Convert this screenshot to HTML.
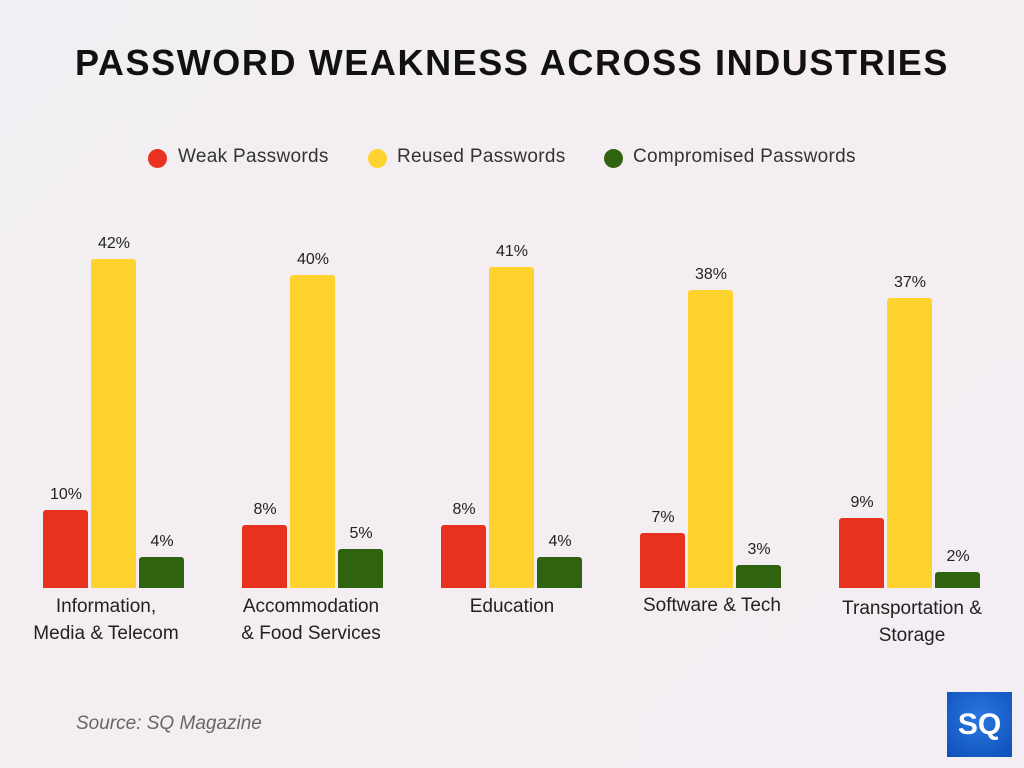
<!DOCTYPE html><html><head><style>
body{margin:0;width:1024px;height:768px;overflow:hidden;background:linear-gradient(135deg,#f1eff3 0%,#f4eef2 50%,#f2eef3 100%);font-family:"Liberation Sans",sans-serif;position:relative}
.t{position:absolute;left:0;width:1024px;top:42px;text-align:center;font-weight:900;font-size:36px;letter-spacing:1.6px;color:#111}
.b{position:absolute;border-radius:3px 3px 0 0}
.r{background:#e8311f}.y{background:#fed330}.g{background:#2f6310}
.v{position:absolute;width:60px;text-align:center;font-size:16px;color:#222}
.c{position:absolute;width:200px;text-align:center;font-size:19px;line-height:27px;color:#222}
.lg{position:absolute;top:146px;font-size:19px;color:#333;letter-spacing:0.3px}
.dot{position:absolute;top:149px;width:19px;height:19px;border-radius:50%}
</style></head><body>
<div class="t">PASSWORD WEAKNESS ACROSS INDUSTRIES</div>
<div class="dot r" style="left:148px"></div><div class="lg" style="left:178px">Weak Passwords</div>
<div class="dot y" style="left:368px"></div><div class="lg" style="left:397px">Reused Passwords</div>
<div class="dot g" style="left:604px"></div><div class="lg" style="left:633px">Compromised Passwords</div>
<div id="ch"></div>
<div class="c" style="left:6px;top:593px">Information,<br>Media &amp; Telecom</div>
<div class="c" style="left:211px;top:593px">Accommodation<br>&amp; Food Services</div>
<div class="c" style="left:412px;top:593px">Education</div>
<div class="c" style="left:612px;top:592px">Software &amp; Tech</div>
<div class="c" style="left:812px;top:595px">Transportation &amp;<br>Storage</div>
<div style="position:absolute;left:76px;top:713px;font-size:19px;font-style:italic;color:#666">Source: SQ Magazine</div>
<div style="position:absolute;left:947px;top:692px;width:65px;height:65px;background:radial-gradient(circle at 50% 40%,#2a78e0,#0d4fb8);color:#fff;font-weight:900;font-size:30px;line-height:65px;text-align:center">SQ</div>
<script>
var d=[[10,42,4],[8,40,5],[8,41,4],[7,38,3],[9,37,2]],xs=[43,242,441,640,839],cl=['r','y','g'],o=[0,48,96],h='';
d.forEach(function(g,i){g.forEach(function(v,j){var top=588-v*7.83,x=xs[i]+o[j];
h+='<div class="b '+cl[j]+'" style="left:'+x+'px;top:'+top+'px;width:45px;height:'+(588-top)+'px"></div>';
h+='<div class="v" style="left:'+(x-7)+'px;top:'+(top-24)+'px">'+v+'%</div>';});});
document.getElementById('ch').innerHTML=h;
</script>
</body></html>
